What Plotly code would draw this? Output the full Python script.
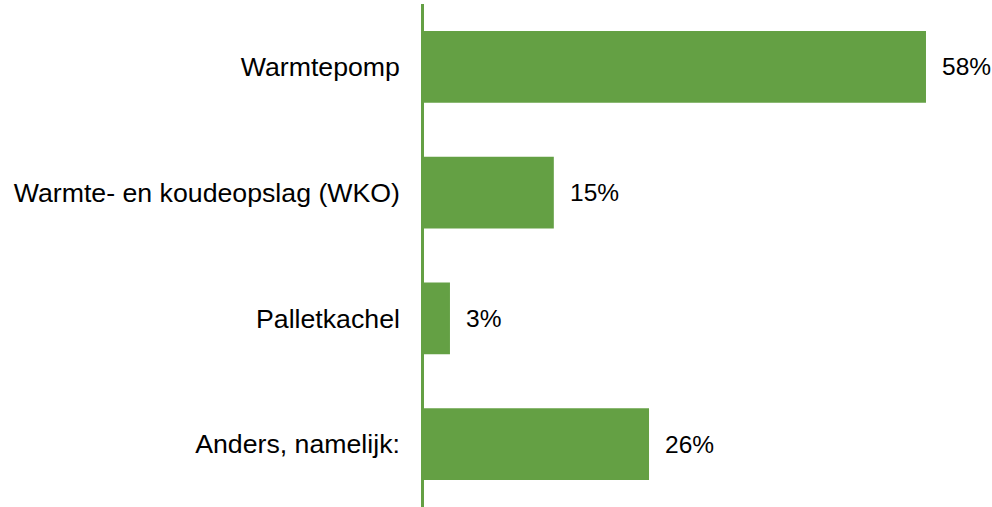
import plotly.graph_objects as go

categories = ["Warmtepomp", "Warmte- en koudeopslag (WKO)", "Palletkachel", "Anders, namelijk:"]
values = [58, 15, 3, 26]
labels = ["58%", "15%", "3%", "26%"]

green = "#64A044"
font_family = "Liberation Sans, Arial, sans-serif"

fig = go.Figure()
fig.add_trace(go.Bar(
    x=values, y=categories, orientation="h",
    marker=dict(color=green, line=dict(width=0)),
    width=0.57,
    hoverinfo="skip",
))
for v, c, t in zip(values, categories, labels):
    fig.add_annotation(x=v, y=c, text=t, showarrow=False, xanchor="left",
                       xshift=14, font=dict(family=font_family, size=24.5, color="#000000"))

fig.update_layout(
    width=992, height=507,
    margin=dict(l=424, r=0, t=4, b=0),
    plot_bgcolor="white", paper_bgcolor="white",
    showlegend=False,
    font=dict(family=font_family, size=24, color="#000000"),
    xaxis=dict(range=[0, 568/8.655], showgrid=False, showticklabels=False, zeroline=False, showline=False),
    yaxis=dict(autorange="reversed", showgrid=False, showline=True, linecolor=green, linewidth=2.5,
               ticks="", ticklabelstandoff=16, zeroline=False,
               tickfont=dict(family=font_family, size=26.7, color="#000000")),
)
fig.write_html("out.html", config={"displayModeBar": False},
               post_script="document.body.style.margin='0px';")
